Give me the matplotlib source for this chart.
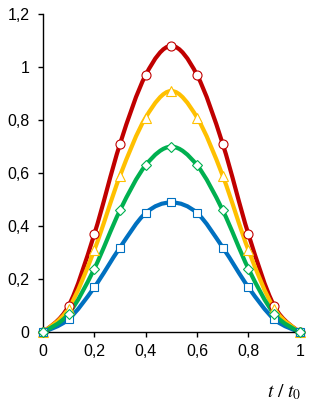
import matplotlib.pyplot as plt
import numpy as np
from matplotlib.path import Path
from matplotlib.patches import PathPatch

# data
t = [0, 0.1, 0.2, 0.3, 0.4, 0.5, 0.6, 0.7, 0.8, 0.9, 1.0]
red = [0, 0.10, 0.37, 0.71, 0.97, 1.08, 0.97, 0.71, 0.37, 0.10, 0]
yellow = [0, 0.09, 0.31, 0.59, 0.81, 0.91, 0.81, 0.59, 0.31, 0.09, 0]
green = [0, 0.07, 0.24, 0.46, 0.63, 0.70, 0.63, 0.46, 0.24, 0.07, 0]
blue = [0, 0.05, 0.17, 0.32, 0.45, 0.49, 0.45, 0.32, 0.17, 0.05, 0]

xticks = [0, 0.2, 0.4, 0.6, 0.8, 1.0]
yticks = [0, 0.2, 0.4, 0.6, 0.8, 1.0, 1.2]

plt.rcParams['font.family'] = ['Liberation Sans', 'DejaVu Sans']
plt.rcParams['mathtext.fontset'] = 'stix'


def smooth_path(x, y):
    # Catmull-Rom style bezier through the points (like a spreadsheet smoothed line)
    x = np.asarray(x, float)
    y = np.asarray(y, float)
    pts = np.column_stack([x, y])
    verts = [pts[0]]
    codes = [Path.MOVETO]
    n = len(pts)
    for i in range(n - 1):
        p0 = pts[max(i - 1, 0)]
        p1 = pts[i]
        p2 = pts[i + 1]
        p3 = pts[min(i + 2, n - 1)]
        c1 = p1 + (p2 - p0) / 6.0
        c2 = p2 - (p3 - p1) / 6.0
        verts += [c1, c2, p2]
        codes += [Path.CURVE4] * 3
    return Path(verts, codes)


fig = plt.figure(figsize=(3.2, 4.01), dpi=100)
ax = fig.add_axes([0.134, 0.171, 0.803, 0.794])

series = [
    (red, '#C00000', 'o', 6.5),
    (yellow, '#FFC000', '^', 7.5),
    (blue, '#0070C0', 's', 6),
    (green, '#00B050', 'D', 4.8),
]

for vals, col, mk, ms in series:
    patch = PathPatch(smooth_path(t, vals), facecolor='none', edgecolor=col,
                      lw=3, transform=ax.transData, clip_on=False)
    ax.add_patch(patch)
    ax.plot(t, vals, linestyle='none', marker=mk, markersize=ms,
            markerfacecolor='white', markeredgecolor=col, markeredgewidth=0.8,
            clip_on=False, zorder=3)

ax.set_xlim(0, 1)
ax.set_ylim(0, 1.2)
ax.set_xticks(xticks)
ax.set_yticks(yticks)
ax.set_xticklabels([('%g' % v).replace('.', ',') for v in xticks])
ax.set_yticklabels([('%g' % v).replace('.', ',') for v in yticks])
ax.tick_params(labelsize=11.5, length=3.6, width=1, colors='black')
ax.tick_params(axis='y', pad=6)
ax.tick_params(axis='x', pad=5)

for s in ['top', 'right']:
    ax.spines[s].set_visible(False)
for s in ['left', 'bottom']:
    ax.spines[s].set_linewidth(1)

fig.text(0.8875, 0.01, r'$t\ /\ t_0$', fontsize=14, ha='center', va='baseline')

fig.savefig('out.png', dpi=100)
